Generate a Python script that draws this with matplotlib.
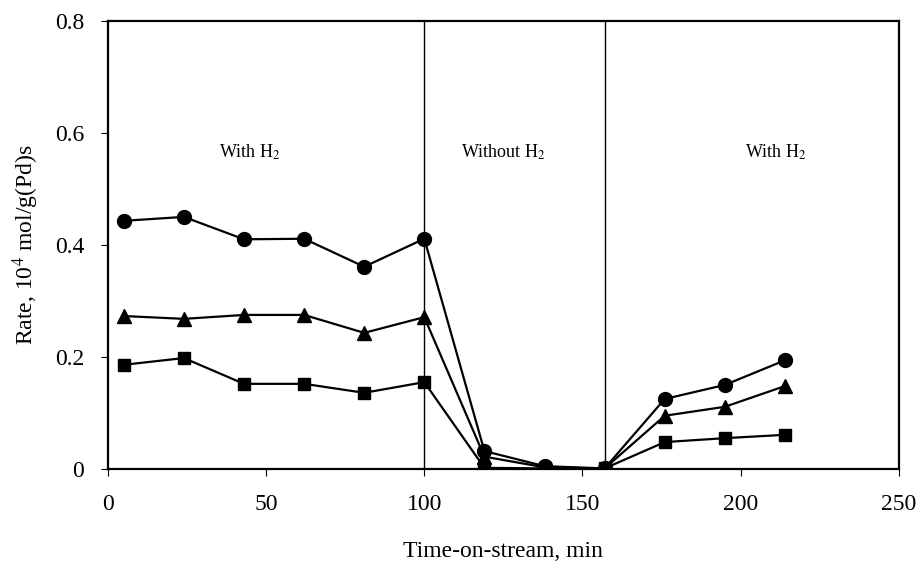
import matplotlib
matplotlib.use("Agg")
import matplotlib.pyplot as plt

plt.rcParams['font.family'] = ['Liberation Serif', 'DejaVu Serif']
plt.rcParams['mathtext.fontset'] = 'stix'

time_min = [5, 24, 43, 62, 81, 100, 119, 138, 157, 176, 195, 214]
rate_circle = [0.443, 0.450, 0.410, 0.411, 0.361, 0.411, 0.032, 0.005, 0.001, 0.125, 0.150, 0.194]
rate_triangle = [0.273, 0.268, 0.275, 0.275, 0.243, 0.271, 0.022, 0.003, 0.001, 0.095, 0.111, 0.148]
rate_square = [0.186, 0.198, 0.152, 0.152, 0.136, 0.155, 0.002, 0.001, 0.001, 0.048, 0.055, 0.061]

switch_times = [100, 157]
region_labels = ["With H$_2$", "Without H$_2$", "With H$_2$"]
region_label_x = [45, 125, 211]
region_label_y = 0.565

x_ticks = [0, 50, 100, 150, 200, 250]
y_ticks = [0, 0.2, 0.4, 0.6, 0.8]
y_tick_labels = ["0", "0.2", "0.4", "0.6", "0.8"]

fig = plt.figure(figsize=(9.19, 5.63), dpi=100)
ax = fig.add_axes([0.1175, 0.167, 0.8605, 0.796])

for t in switch_times:
    ax.plot([t, t], [0, 0.8], color='black', lw=1.0, zorder=1)

ax.plot(time_min, rate_circle, '-o', color='black', lw=1.6, ms=10, zorder=3)
ax.plot(time_min, rate_triangle, '-^', color='black', lw=1.6, ms=10, zorder=3)
ax.plot(time_min, rate_square, '-s', color='black', lw=1.6, ms=9, zorder=3)

for x, s in zip(region_label_x, region_labels):
    ax.text(x, region_label_y, s, ha='center', va='center', fontsize=13)

ax.set_xlim(0, 250)
ax.set_ylim(0, 0.8)
ax.set_xticks(x_ticks)
ax.set_xticklabels([str(v) for v in x_ticks])
ax.set_yticks(y_ticks)
ax.set_yticklabels(y_tick_labels)
ax.tick_params(direction='out', length=5, width=0.8, labelsize=17, pad=12)
ax.tick_params(axis='x', pad=13)

for side in ['left', 'bottom', 'top', 'right']:
    ax.spines[side].set_linewidth(1.6)

ax.set_xlabel("Time-on-stream, min", fontsize=17, labelpad=19)
ax.set_ylabel("Rate, 10$^4$ mol/g(Pd)s", fontsize=17, labelpad=10)

fig.savefig("out.png", dpi=100)
